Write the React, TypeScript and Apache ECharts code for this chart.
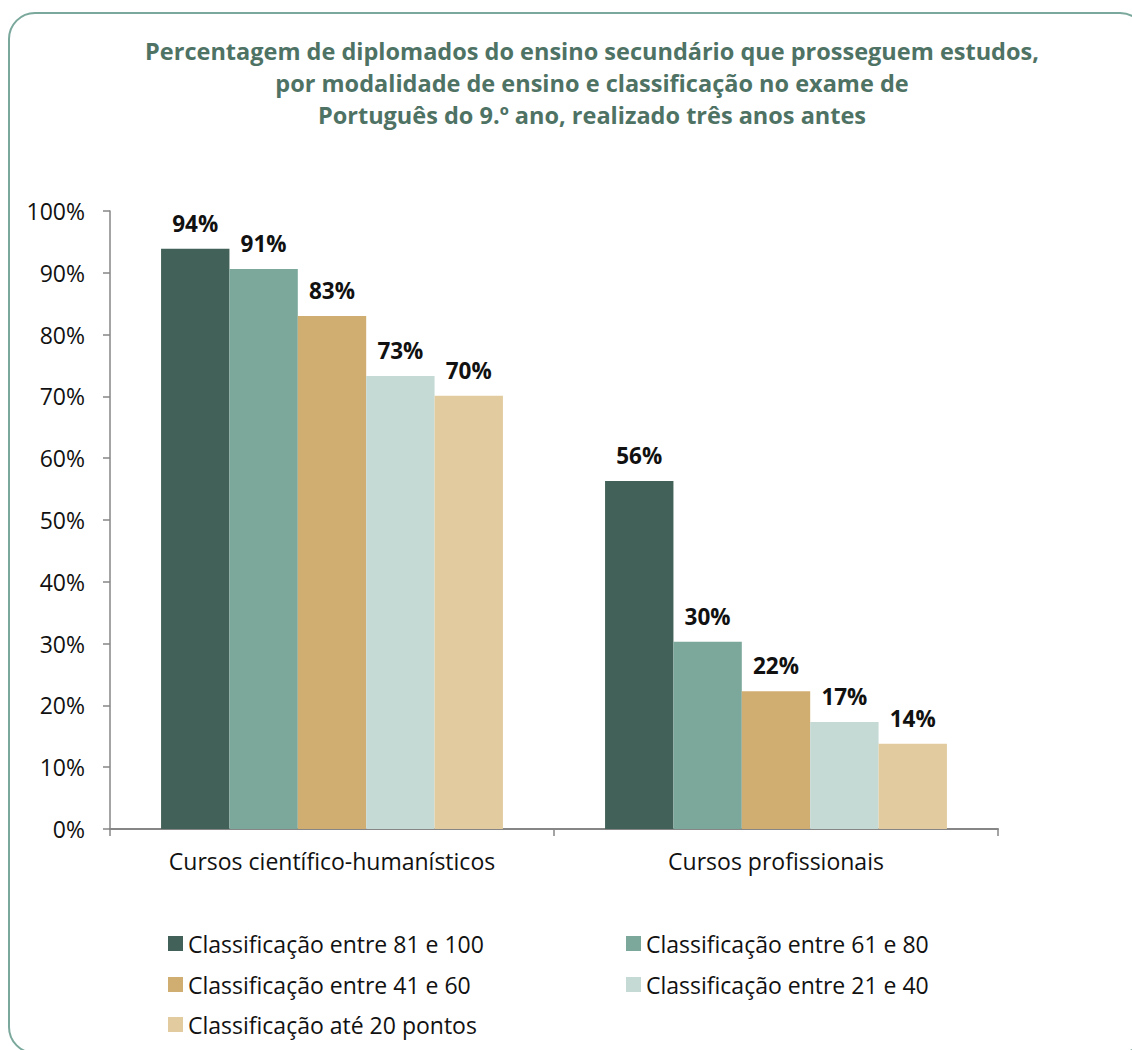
import React, { useEffect, useRef } from "react";
import * as echarts from "echarts";

const titleLines = [
  "Percentagem de diplomados do ensino secundário que prosseguem estudos,",
  "por modalidade de ensino e classificação no exame de",
  "Português do 9.º ano, realizado três anos antes",
];
const categories = ["Cursos científico-humanísticos", "Cursos profissionais"];
const seriesNames = [
  "Classificação entre 81 e 100",
  "Classificação entre 61 e 80",
  "Classificação entre 41 e 60",
  "Classificação entre 21 e 40",
  "Classificação até 20 pontos",
];
const values81to100 = [93.9, 56.3];
const values61to80 = [90.6, 30.3];
const values41to60 = [83.0, 22.3];
const values21to40 = [73.3, 17.3];
const valuesUpTo20 = [70.1, 13.8];
const seriesValues = [values81to100, values61to80, values41to60, values21to40, valuesUpTo20];
const seriesColors = ["#426158", "#7CA89C", "#D0AE71", "#C5D9D5", "#E2CB9F"];
const yTicks = { min: 0, max: 100, interval: 10 };

const FONT = "'Open Sans', 'Noto Sans', sans-serif";

export default function App() {
  const ref = useRef<HTMLDivElement>(null);
  useEffect(() => {
    if (!ref.current) return;
    const chart = echarts.init(ref.current, null, { renderer: "svg" });
    const legendPos = [
      { left: 163, top: 927 },
      { left: 621, top: 927 },
      { left: 163, top: 968 },
      { left: 621, top: 968 },
      { left: 163, top: 1008 },
    ];
    chart.setOption({
      animation: false,
      backgroundColor: "#ffffff",
      title: {
        text: titleLines.join("\n"),
        left: 592,
        top: 35,
        padding: 0,
        textAlign: "center",
        textStyle: {
          fontFamily: FONT,
          fontSize: 23.5,
          fontWeight: "bold",
          color: "#4E7264",
          lineHeight: 32,
        },
      },
      graphic: [
        {
          type: "rect",
          shape: { x: 9, y: 13, width: 1137, height: 1040, r: 26 },
          style: { fill: "none", stroke: "#7BA89C", lineWidth: 2 },
          silent: true,
          z: 0,
        },
      ],
      legend: seriesNames.map((name, i) => ({
        data: [name],
        left: legendPos[i].left,
        top: legendPos[i].top,
        itemWidth: 15,
        itemHeight: 15,
        itemGap: 5,
        icon: "rect",
        selectedMode: false,
        textStyle: { fontFamily: FONT, fontSize: 23, color: "#111", lineHeight: 20 },
      })),
      grid: { left: 110, right: 134, top: 211, bottom: 221, containLabel: false },
      xAxis: {
        type: "category",
        data: categories,
        boundaryGap: true,
        axisLine: { show: true, lineStyle: { color: "#868686", width: 2 } },
        axisTick: { show: true, alignWithLabel: false, length: 7, lineStyle: { color: "#868686", width: 1.5 } },
        axisLabel: { fontFamily: FONT, fontSize: 23, color: "#111", margin: 20 },
      },
      yAxis: {
        type: "value",
        min: yTicks.min,
        max: yTicks.max,
        interval: yTicks.interval,
        axisLine: { show: true, lineStyle: { color: "#868686", width: 1.5 } },
        axisTick: { show: true, inside: false, length: 7, lineStyle: { color: "#868686", width: 1.5 } },
        splitLine: { show: false },
        axisLabel: {
          fontFamily: FONT,
          fontSize: 23,
          color: "#111",
          margin: 25,
          formatter: "{value}%",
        },
      },
      series: seriesNames.map((name, i) => ({
        name,
        type: "bar",
        data: seriesValues[i],
        barGap: "0%",
        barCategoryGap: "23%",
        itemStyle: { color: seriesColors[i] },
        label: {
          show: true,
          position: "top",
          distance: 14,
          fontFamily: FONT,
          fontSize: 22.5,
          fontWeight: "bold",
          color: "#111",
          formatter: (p: any) => Math.round(p.value) + "%",
        },
      })),
    });
    return () => chart.dispose();
  }, []);
  return (
    <div
      ref={ref}
      style={{ position: "absolute", left: 0, top: 0, width: 1132, height: 1050 }}
    />
  );
}
